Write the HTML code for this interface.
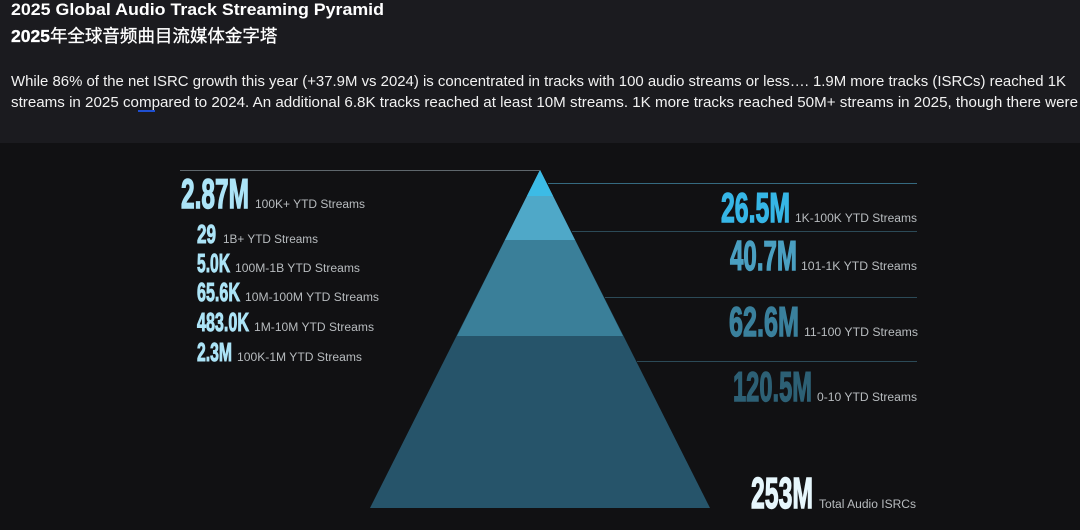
<!DOCTYPE html>
<html><head><meta charset="utf-8"><style>
html,body{margin:0;padding:0;width:1080px;height:530px;overflow:hidden;background:#111113}
</style></head><body>
<svg width="1080" height="530" viewBox="0 0 1080 530" xmlns="http://www.w3.org/2000/svg" style="display:block">
<rect x="0" y="0" width="1080" height="143" fill="#1b1b1f"/>
<rect x="0" y="143" width="1080" height="387" fill="#111113"/>
<g font-family="Liberation Sans, sans-serif" fill="#ffffff">
<text x="11" y="15" font-size="16.5" font-weight="bold" textLength="373" lengthAdjust="spacingAndGlyphs">2025 Global Audio Track Streaming Pyramid</text>
<text x="11" y="42" font-size="17.5" font-family="Liberation Sans, Noto Sans CJK SC, sans-serif" font-weight="bold" stroke="#fff" stroke-width="0.3">2025<tspan font-weight="normal">年全球音频曲目流媒体金字塔</tspan></text>
<text x="11" y="86" font-size="14.5" fill="#f2f2f2" textLength="1055" lengthAdjust="spacingAndGlyphs">While 86% of the net ISRC growth this year (+37.9M vs 2024) is concentrated in tracks with 100 audio streams or less…. 1.9M more tracks (ISRCs) reached 1K</text>
<text x="11" y="107" font-size="14.5" fill="#f2f2f2" textLength="1067" lengthAdjust="spacingAndGlyphs">streams in 2025 compared to 2024. An additional 6.8K tracks reached at least 10M streams. 1K more tracks reached 50M+ streams in 2025, though there were</text>
</g>
<rect x="138" y="110" width="17" height="2" fill="#1f4fd0"/>
<polygon points="540,170 710,508 370,508" fill="#26546a"/>
<polygon points="540,170 623,336 457,336" fill="#3a7f99"/>
<polygon points="540,170 575,240 505,240" fill="#4fa8c8"/>
<polygon points="540,170 553,196 527,196" fill="#3cbbe6"/>
<g stroke="#2c4a57" stroke-width="1">
<line x1="180" y1="170.5" x2="540" y2="170.5" stroke="#5f676c"/>
<line x1="548" y1="183.5" x2="917" y2="183.5" stroke="#356a80"/>
<line x1="572" y1="231.5" x2="917" y2="231.5"/>
<line x1="605" y1="297.5" x2="917" y2="297.5"/>
<line x1="637" y1="361.5" x2="917" y2="361.5"/>
</g>
<g font-family="Liberation Sans, sans-serif" font-weight="bold" stroke-width="1.4">
<text x="181" y="208" font-size="42" fill="#ace4f7" stroke="#ace4f7" textLength="68" lengthAdjust="spacingAndGlyphs">2.87M</text>
<g fill="#ace4f7" stroke="#ace4f7" stroke-width="1">
<text x="197" y="243" font-size="26" textLength="19" lengthAdjust="spacingAndGlyphs">29</text>
<text x="197" y="272" font-size="26" textLength="33" lengthAdjust="spacingAndGlyphs">5.0K</text>
<text x="197" y="301" font-size="26" textLength="43" lengthAdjust="spacingAndGlyphs">65.6K</text>
<text x="197" y="331" font-size="26" textLength="52" lengthAdjust="spacingAndGlyphs">483.0K</text>
<text x="197" y="361" font-size="26" textLength="35" lengthAdjust="spacingAndGlyphs">2.3M</text>
</g>
<text x="721" y="222" font-size="42" fill="#36b6e6" stroke="#36b6e6" textLength="69" lengthAdjust="spacingAndGlyphs">26.5M</text>
<text x="730" y="270" font-size="42" fill="#4a9fc1" stroke="#4a9fc1" textLength="67" lengthAdjust="spacingAndGlyphs">40.7M</text>
<text x="729" y="336" font-size="42" fill="#3a809c" stroke="#3a809c" textLength="70" lengthAdjust="spacingAndGlyphs">62.6M</text>
<text x="733" y="401" font-size="42" fill="#2d6075" stroke="#2d6075" textLength="79" lengthAdjust="spacingAndGlyphs">120.5M</text>
<text x="751" y="508" font-size="44" fill="#e6f6fc" stroke="#e6f6fc" textLength="62" lengthAdjust="spacingAndGlyphs">253M</text>
</g>
<g font-family="Liberation Sans, sans-serif" font-size="11.5" fill="#b8bcbf">
<text x="255" y="208" textLength="110" lengthAdjust="spacingAndGlyphs">100K+ YTD Streams</text>
<text x="223" y="243" textLength="95" lengthAdjust="spacingAndGlyphs">1B+ YTD Streams</text>
<text x="235" y="272" textLength="125" lengthAdjust="spacingAndGlyphs">100M-1B YTD Streams</text>
<text x="245" y="301" textLength="134" lengthAdjust="spacingAndGlyphs">10M-100M YTD Streams</text>
<text x="254" y="331" textLength="120" lengthAdjust="spacingAndGlyphs">1M-10M YTD Streams</text>
<text x="237" y="361" textLength="125" lengthAdjust="spacingAndGlyphs">100K-1M YTD Streams</text>
<text x="795" y="222" textLength="122" lengthAdjust="spacingAndGlyphs">1K-100K YTD Streams</text>
<text x="801" y="270" textLength="116" lengthAdjust="spacingAndGlyphs">101-1K YTD Streams</text>
<text x="804" y="336" textLength="114" lengthAdjust="spacingAndGlyphs">11-100 YTD Streams</text>
<text x="817" y="401" textLength="100" lengthAdjust="spacingAndGlyphs">0-10 YTD Streams</text>
<text x="819" y="508" textLength="97" lengthAdjust="spacingAndGlyphs">Total Audio ISRCs</text>
</g>
</svg>
</body></html>
